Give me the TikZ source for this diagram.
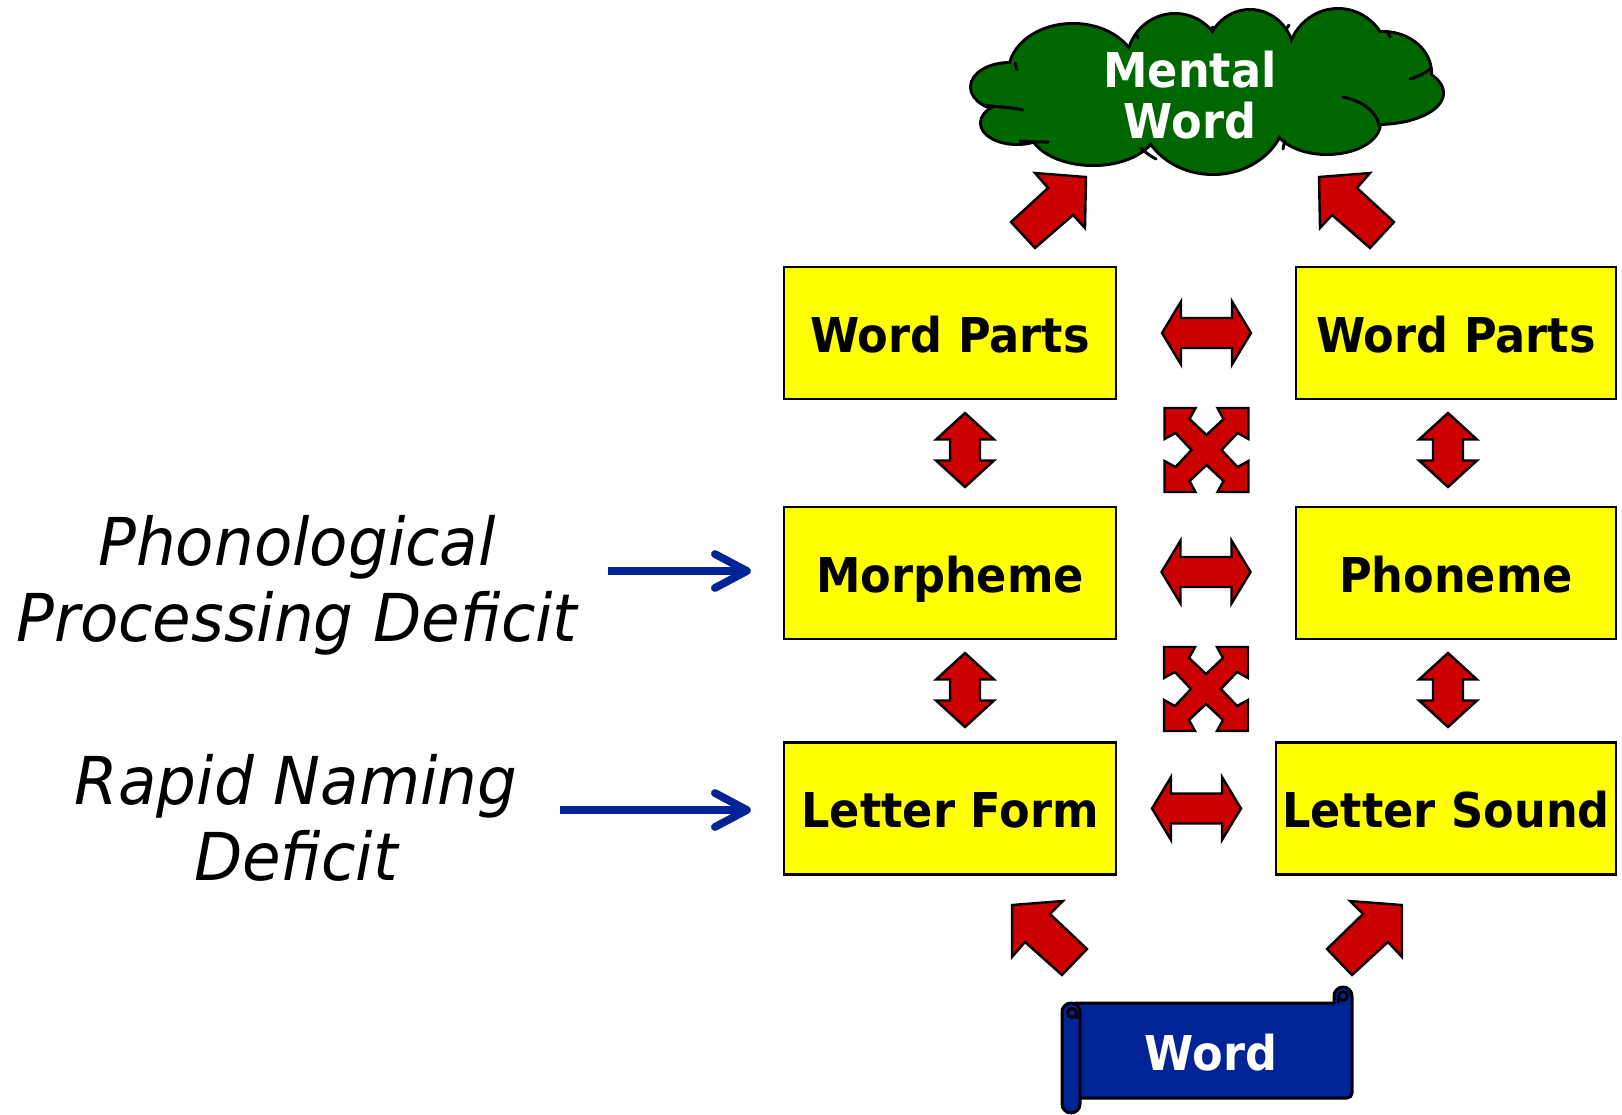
\documentclass[tikz,border=0pt]{standalone}
\usepackage{fontspec}
\newfontfamily\vbold{DejaVu Sans}[FakeStretch=0.93]
\newfontfamily\vital{DejaVu Sans}[FakeStretch=0.95]
\usetikzlibrary{arrows.meta}
\definecolor{yboxc}{RGB}{255,255,0}
\definecolor{redc}{RGB}{204,0,0}
\definecolor{greenc}{RGB}{0,102,0}
\definecolor{bluec}{RGB}{0,35,149}
\tikzset{
  box/.style={draw=black, line width=1.2pt, fill=yboxc, minimum height=66pt,
    inner sep=0pt, text height=19pt, text depth=0pt,
    font=\vbold\bfseries\fontsize{24}{28}\selectfont},
  redarr/.style={fill=redc, draw=black, line width=1.2pt, line join=miter},
  sidetxt/.style={align=center, font=\vital\itshape\fontsize{33}{38}\selectfont, inner sep=0pt},
  whitetxt/.style={align=center, text=white, inner sep=0pt,
    font=\vbold\bfseries\fontsize{24}{25.5}\selectfont},
  bluearr/.style={draw=bluec, line width=3.9pt,
    -{Straight Barb[length=16pt, width=17pt, round]}, shorten >=16pt},
  hdarrow/.pic={\path[redarr] (-44.5,0) -- (-25.5,-31.5) -- (-25.5,-15) -- (25.5,-15)
      -- (25.5,-31.5) -- (44.5,0) -- (25.5,31.5) -- (25.5,15) -- (-25.5,15)
      -- (-25.5,31.5) -- cycle;},
  vdarrow/.pic={\path[redarr] (0,-37) -- (29,-10.5) -- (15,-10.5) -- (15,10.5)
      -- (29,10.5) -- (0,37) -- (-29,10.5) -- (-15,10.5) -- (-15,-10.5)
      -- (-29,-10.5) -- cycle;},
  xarrow/.pic={\path[redarr] (-42,-42) -- (-11,-42) -- (-17,-31) -- (0,-15)
      -- (17,-31) -- (11,-42) -- (42,-42) -- (42,-11) -- (31,-17) -- (15,0)
      -- (31,17) -- (42,11) -- (42,42) -- (11,42) -- (17,31) -- (0,15)
      -- (-17,31) -- (-11,42) -- (-42,42) -- (-42,11) -- (-31,17) -- (-15,0)
      -- (-31,-17) -- (-42,-11) -- cycle;}
}
\begin{document}
\begin{tikzpicture}[x=0.5pt,y=-0.5pt]
\useasboundingbox (0,0) rectangle (1622,1114);

% ---- cloud
\foreach \cx/\cy/\rx/\ry in {1073/72/63/47, 1175/63/47/48, 1250/57/43/46,
    1338/63/50/53, 1383/73/47/40, 1377/93/65/30, 1327/123/52/30,
    1213/110/72/63, 1093/127/63/37, 1017/123/35/20, 1010/87/38/23}
  \draw[line width=3pt] (\cx,\cy) ellipse [x radius=\rx, y radius=\ry];
\foreach \cx/\cy/\rx/\ry in {1073/72/63/47, 1175/63/47/48, 1250/57/43/46,
    1338/63/50/53, 1383/73/47/40, 1377/93/65/30, 1327/123/52/30,
    1213/110/72/63, 1093/127/63/37, 1017/123/35/20, 1010/87/38/23}
  \fill[greenc] (\cx,\cy) ellipse [x radius=\rx, y radius=\ry];
\fill[greenc] (1200,90) ellipse [x radius=150, y radius=45];
\begin{scope}[line width=1.5pt, line cap=round]
  \draw (983,105) .. controls (996,107) and (1010,107) .. (1023,110);
  \draw (1020,141) .. controls (1030,142) and (1040,142) .. (1048,142);
  \draw (1141,148) .. controls (1145,152) and (1150,156) .. (1156,159);
  \draw (1285,141) .. controls (1284,144) .. (1283,149);
  \draw (1343,97) .. controls (1362,101) and (1376,111) .. (1379,125);
  \draw (1410,79) .. controls (1420,76) and (1427,72) .. (1431,68);
  \draw (1388,33) -- (1390,37);
  \draw (1213,27) -- (1211,30);
  \draw (1137,35) -- (1138,38);
  \draw (1289,25) -- (1287,28);
  \draw (1015,63) -- (1017,70);
\end{scope}
\node[whitetxt, anchor=base] (mw) at (1190,138) {Mental\\Word};

% ---- boxes
\node[box, minimum width=166pt] (wpl) at (950,333) {Word Parts};
\node[box, minimum width=160pt] (wpr) at (1456,333) {Word Parts};
\node[box, minimum width=166pt] (mo) at (950,573) {Morpheme};
\node[box, minimum width=160pt] (ph) at (1456,573) {Phoneme};
\node[box, minimum width=166pt] (lf) at (950,808.5) {Letter Form};
\node[box, minimum width=170pt] (ls) at (1446,808.5) {Letter Sound};

% ---- block arrows
\pic at (1206.5,333) {hdarrow};
\pic at (1206,572) {hdarrow};
\pic at (1196.5,808.5) {hdarrow};
\pic at (965,450) {vdarrow};
\pic at (1448,450) {vdarrow};
\pic at (965,690) {vdarrow};
\pic at (1448,690) {vdarrow};
\pic at (1206.5,450) {xarrow};
\pic at (1206,689) {xarrow};

% up arrows to the cloud
\path[redarr] (1086,177) -- (1035,173) -- (1048,188) -- (1011,222) -- (1035,248)
  -- (1073,215) -- (1085,228) -- cycle;
\path[redarr] (1319,177) -- (1370,173) -- (1357,188) -- (1394,222) -- (1370,248)
  -- (1332,215) -- (1320,228) -- cycle;
% up arrows from the scroll
\path[redarr] (1012,905) -- (1063,901) -- (1050,914) -- (1087,949) -- (1062,975)
  -- (1025,942) -- (1012,957) -- cycle;
\path[redarr] (1402,905) -- (1350,901) -- (1363,914) -- (1327,949) -- (1352,975)
  -- (1388,942) -- (1402,957) -- cycle;

% ---- scroll
\begin{scope}[fill=bluec, draw=black, line width=1.5pt, line join=round]
  \filldraw (1075,1003) -- (1334,1003) -- (1334,996)
    arc[start angle=180, end angle=360, radius=9] -- (1352,1093)
    arc[start angle=0, end angle=90, radius=5] -- (1075,1098) -- cycle;
  \filldraw (1343,996) circle[radius=4.5];
  \draw (1338.5,996) -- (1338.5,1003);
  \filldraw (1062,1012) -- (1062,1104) arc[start angle=180, end angle=0, radius=9]
    -- (1080,1012) arc[start angle=0, end angle=-180, radius=9] -- cycle;
  \filldraw (1072,1013) circle[radius=4.5];
  \draw (1076.5,1013) -- (1076.5,1019);
\end{scope}
\node[whitetxt, text height=19pt, text depth=0pt] (wd) at (1211,1051) {Word};

% ---- side labels and blue arrows
\node[sidetxt, anchor=base] (ppd) at (297,641) {Phonological\\Processing Deficit};
\node[sidetxt, anchor=base] (rnd) at (296,880) {Rapid Naming\\Deficit};
\coordinate (pa) at (608,571);
\coordinate (ra) at (560,810);
\draw[bluearr] (pa) -- (pa -| mo.west);
\draw[bluearr] (ra) -- (ra -| lf.west);
\end{tikzpicture}
\end{document}
